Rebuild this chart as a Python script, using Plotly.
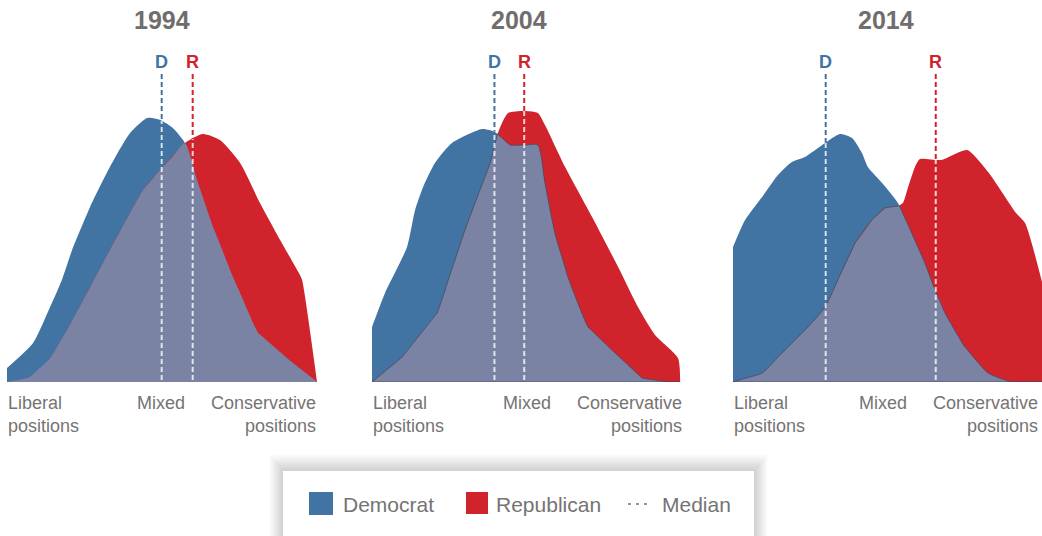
import numpy as np
import plotly.graph_objects as go

W, H = 1042, 536

# Ideological position (0 = most liberal, 100 = most conservative) and
# relative share of each party's members at that position.
years = ["1994", "2004", "2014"]

dem_x_1994 = [0, 8.4, 13.9, 17.7, 21.0, 26.8, 33.2, 39.7, 45.2, 49.4, 53.5, 57.4, 61.3, 66.5, 72.9, 81.0, 90.3, 100]
dem_y_1994 = [0.7, 1.95, 3.75, 5.1, 6.6, 8.75, 10.75, 12.45, 13.2, 13.1, 12.7, 11.95, 10.1, 7.75, 5.25, 2.45, 1.2, 0]
rep_x_1994 = [0, 7.4, 13.9, 19.4, 25.8, 33.2, 39.7, 43.9, 49.4, 57.4, 63.2, 68.7, 75.2, 81.6, 88.1, 94.5, 95.2, 100]
rep_y_1994 = [0, 0.25, 1.2, 2.6, 4.45, 6.6, 8.45, 9.6, 10.6, 11.95, 12.4, 12.1, 10.95, 8.95, 7.1, 5.35, 5.1, 0]

dem_x_2004 = [0, 4.2, 11.3, 13.9, 16.5, 20.3, 25.8, 35.5, 39.7, 44.5, 53.5, 55.8, 59.0, 63.2, 69.7, 78.4, 87.1, 95.5]
dem_y_2004 = [2.75, 4.45, 6.75, 8.6, 9.75, 10.95, 11.95, 12.65, 12.5, 11.85, 11.85, 9.95, 7.45, 5.25, 2.75, 1.45, 0.2, 0]
rep_x_2004 = [0, 9.7, 21.0, 30.0, 38.1, 40.6, 43.9, 49.4, 53.5, 55.8, 62.3, 71.0, 79.4, 85.8, 91.3, 98.7, 99.4]
rep_y_2004 = [0, 1.25, 3.45, 7.6, 10.95, 12.45, 13.45, 13.55, 13.45, 12.85, 10.75, 8.25, 5.75, 3.75, 2.35, 1.2, 0]

dem_x_2014 = [0, 3.9, 9.4, 14.5, 19.0, 23.2, 29.7, 34.5, 38.4, 41.6, 43.5, 48.1, 53.2, 56.5, 61.9, 65.2, 68.4, 74.8, 82.3, 90.0]
dem_y_2014 = [6.75, 8.1, 9.25, 10.35, 11.0, 11.25, 11.95, 12.4, 12.2, 11.45, 10.75, 9.95, 8.95, 7.85, 5.95, 4.6, 3.45, 1.75, 0.45, 0]
rep_x_2014 = [0, 9.4, 24.2, 29.7, 39.4, 44.8, 49.0, 53.2, 54.8, 56.5, 58.7, 60.3, 67.1, 75.5, 82.3, 91.3, 94.2, 100]
rep_y_2014 = [0, 0.45, 2.75, 3.75, 6.95, 8.1, 8.7, 8.8, 8.95, 9.75, 10.75, 11.15, 11.1, 11.6, 10.5, 8.45, 7.95, 4.8]

median_dem = [49.9, 39.5, 29.9]
median_rep = [59.9, 49.1, 65.4]

axis_labels = ["Liberal<br>positions", "Mixed", "Conservative<br>positions"]
legend_labels = ["Democrat", "Republican", "Median"]

dem_x = [dem_x_1994, dem_x_2004, dem_x_2014]
dem_y = [dem_y_1994, dem_y_2004, dem_y_2014]
rep_x = [rep_x_1994, rep_x_2004, rep_x_2014]
rep_y = [rep_y_1994, rep_y_2004, rep_y_2014]

BLUE = "#4173a3"
RED = "#d0232b"
OVERLAP = "#7a83a4"
TITLE_GRAY = "#716d6d"
LABEL_GRAY = "#767373"
FONT = "Liberation Sans, Arial, Helvetica, sans-serif"
SMOOTH = 0.6

# pixel layout of the three panels
panel_left = [7, 372, 733]
PX_PER_X = 3.1
BASE_PY = 382
TOP_PY = 62
PX_PER_Y = 20
Y_MAX = (BASE_PY - TOP_PY) / PX_PER_Y


def px(x):
    return x / W


def py(y):
    return 1 - y / H


def overlap(xd, yd, xr, yr):
    """Area shared by both parties: pointwise minimum, with crossing points."""
    xs = np.union1d(xd, xr)
    d = np.interp(xs, xd, yd, right=0)
    r = np.interp(xs, xr, yr, right=0)
    ox, oy = [], []
    for i in range(len(xs)):
        if i > 0:
            a = d[i - 1] - r[i - 1]
            b = d[i] - r[i]
            if a * b < 0:
                t = a / (a - b)
                ox.append(xs[i - 1] + t * (xs[i] - xs[i - 1]))
                oy.append(d[i - 1] + t * (d[i] - d[i - 1]))
        ox.append(xs[i])
        oy.append(min(d[i], r[i]))
    return ox, oy


fig = go.Figure()
shapes = []
annotations = []
overlap_edge = [0, 1, 1]

for i in range(3):
    xa = "x" if i == 0 else f"x{i + 1}"
    ya = "y" if i == 0 else f"y{i + 1}"
    fig.add_trace(go.Scatter(x=dem_x[i], y=dem_y[i], mode="lines", fill="tozeroy",
                             fillcolor=BLUE,
                             line=dict(width=0, color=BLUE, shape="spline", smoothing=SMOOTH),
                             xaxis=xa, yaxis=ya, hoverinfo="skip", showlegend=False))
    fig.add_trace(go.Scatter(x=rep_x[i], y=rep_y[i], mode="lines", fill="tozeroy",
                             fillcolor=RED,
                             line=dict(width=0, color=RED, shape="spline", smoothing=SMOOTH),
                             xaxis=xa, yaxis=ya, hoverinfo="skip", showlegend=False))
    ox, oy = overlap(dem_x[i], dem_y[i], rep_x[i], rep_y[i])
    fig.add_trace(go.Scatter(x=ox, y=oy, mode="lines", fill="tozeroy",
                             fillcolor=OVERLAP,
                             line=dict(width=overlap_edge[i], color="rgba(70,72,95,0.75)",
                                       shape="spline", smoothing=SMOOTH),
                             xaxis=xa, yaxis=ya, hoverinfo="skip", showlegend=False))

    left = panel_left[i]
    right = min(left + 100 * PX_PER_X, W)
    dom = [px(left), px(right)]
    xr_max = (right - left) / PX_PER_X
    axis_key = "xaxis" if i == 0 else f"xaxis{i + 1}"
    yaxis_key = "yaxis" if i == 0 else f"yaxis{i + 1}"
    fig.layout[axis_key] = dict(domain=dom, range=[0, xr_max], visible=False,
                                fixedrange=True, anchor=ya)
    fig.layout[yaxis_key] = dict(domain=[py(BASE_PY), py(TOP_PY)], range=[0, Y_MAX],
                                 visible=False, fixedrange=True, anchor=xa)

    if overlap_edge[i]:
        shapes.append(dict(type="line", xref=xa, yref=ya, x0=ox[0], x1=ox[-1], y0=0, y1=0,
                           line=dict(color="rgba(70,72,95,0.75)", width=1.2)))

    # median markers: colored dashes above the areas, pale dashes inside them
    line_top = (BASE_PY - 74) / PX_PER_Y
    for m, col, lab in [(median_dem[i], BLUE, "D"), (median_rep[i], RED, "R")]:
        surf = max(np.interp(m, dem_x[i], dem_y[i], right=0),
                   np.interp(m, rep_x[i], rep_y[i], right=0))
        shapes.append(dict(type="line", xref=xa, yref=ya, x0=m, x1=m, y0=line_top, y1=surf,
                           line=dict(color=col, width=2, dash="5px,3px")))
        shapes.append(dict(type="line", xref=xa, yref=ya, x0=m, x1=m, y0=0.1, y1=surf,
                           line=dict(color="rgba(255,255,255,0.78)", width=2, dash="5px,3px")))
        annotations.append(dict(text=f"<b>{lab}</b>", xref=xa, yref="paper", x=m,
                                y=py(62.5), xanchor="center", yanchor="middle",
                                showarrow=False, font=dict(family=FONT, size=18, color=col)))

# panel titles
title_px = [162, 518.5, 886]
for i in range(3):
    annotations.append(dict(text=f"<b>{years[i]}</b>", xref="paper", yref="paper",
                            x=px(title_px[i]), y=py(20), xanchor="center", yanchor="middle",
                            showarrow=False, font=dict(family=FONT, size=25, color=TITLE_GRAY)))

# scale labels under each panel
mixed_px = [161, 527, 883]
right_px = [318, 684, 1040]
for i in range(3):
    common = dict(xref="paper", yref="paper", y=py(391), yanchor="top", showarrow=False,
                  font=dict(family=FONT, size=18, color=LABEL_GRAY))
    annotations.append(dict(text=axis_labels[0], x=px(panel_left[i] - 1), xanchor="left",
                            align="left", **common))
    annotations.append(dict(text=axis_labels[1], x=px(mixed_px[i]), xanchor="center",
                            align="center", **common))
    annotations.append(dict(text=axis_labels[2], x=px(right_px[i]), xanchor="right",
                            align="right", **common))

# legend box with a soft shadow
bx0, bx1, by0, by1 = 283, 754, 471, 545
for k in range(9, 0, -1):
    shapes.append(dict(type="rect", xref="paper", yref="paper",
                       x0=px(bx0 - k * 1.5), x1=px(bx1 + k * 1.5),
                       y0=py(by0 - k * 1.8), y1=py(by1 + k),
                       fillcolor="rgba(0,0,0,0.018)", line=dict(width=0), layer="above"))
shapes.append(dict(type="rect", xref="paper", yref="paper", x0=px(bx0), x1=px(bx1),
                   y0=py(by0), y1=py(by1), fillcolor="white", line=dict(width=0), layer="above"))
shapes.append(dict(type="rect", xref="paper", yref="paper", x0=px(309), x1=px(333),
                   y0=py(492), y1=py(515), fillcolor=BLUE, line=dict(width=0), layer="above"))
shapes.append(dict(type="rect", xref="paper", yref="paper", x0=px(466), x1=px(488),
                   y0=py(492), y1=py(514), fillcolor=RED, line=dict(width=0), layer="above"))
shapes.append(dict(type="line", xref="paper", yref="paper", x0=px(628), x1=px(651),
                   y0=py(504), y1=py(504), layer="above",
                   line=dict(color="#6f6c6c", width=1.5, dash="3px,5px")))
legend_px = [341, 494, 660]
for lab, x in zip(legend_labels, legend_px):
    annotations.append(dict(text=lab, xref="paper", yref="paper", x=px(x), y=py(504),
                            xanchor="left", yanchor="middle", showarrow=False,
                            font=dict(family=FONT, size=21, color=LABEL_GRAY)))

fig.update_layout(
    width=W, height=H,
    margin=dict(l=0, r=0, t=0, b=0),
    paper_bgcolor="white", plot_bgcolor="rgba(0,0,0,0)",
    showlegend=False,
    shapes=shapes,
    annotations=annotations,
)

fig.write_html("out.html", config={"displayModeBar": False})
